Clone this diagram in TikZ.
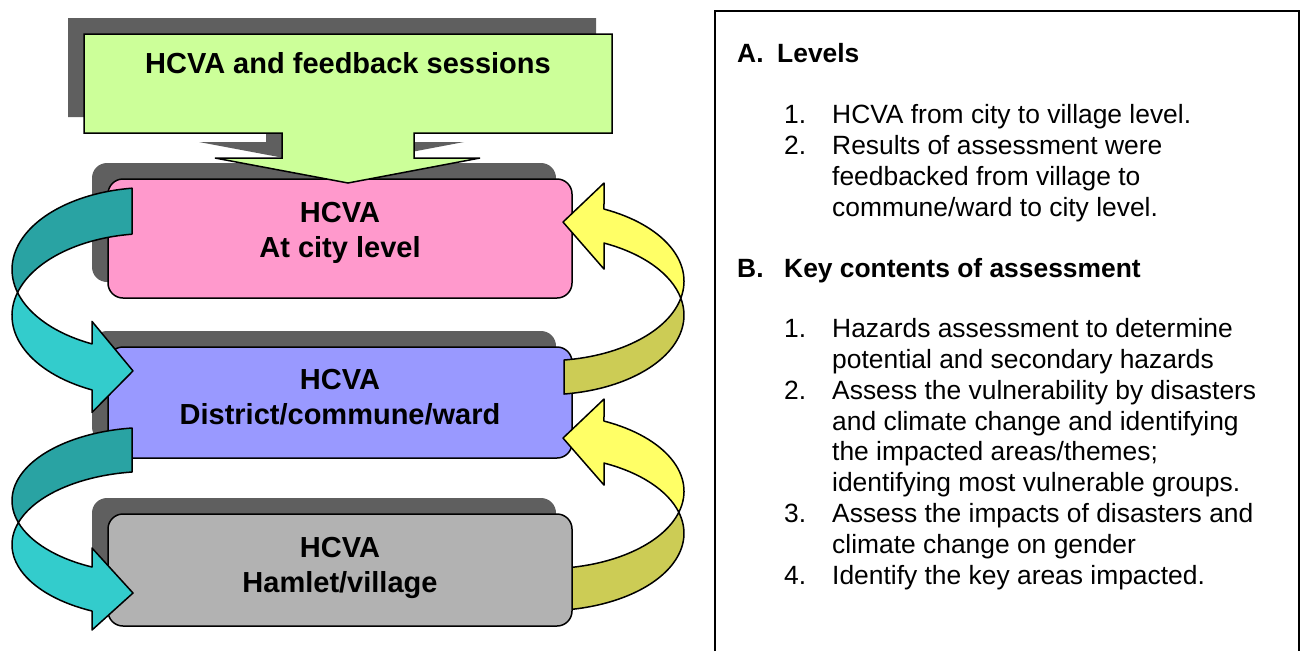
\documentclass[tikz,border=0pt]{standalone}
\usepackage{fontspec}
\setmainfont{Liberation Sans}
\usetikzlibrary{shadows}
\definecolor{pinkfill}{HTML}{FF99CC}
\definecolor{bluefill}{HTML}{9999FF}
\definecolor{grayfill}{HTML}{B2B2B2}
\definecolor{greenfill}{HTML}{CCFF99}
\definecolor{shadowgray}{HTML}{5F5F5F}
\definecolor{tealdark}{HTML}{29A3A3}
\definecolor{teallight}{HTML}{33CCCC}
\definecolor{yellowdark}{HTML}{CCCC55}
\definecolor{yellowlight}{HTML}{FFFF66}

% twisted curved block arrow, local origin = centre of the upper ellipse
% #1 back colour, #2 front colour, #3 y radius, #4 band width, #5 half head width
\newcommand{\twistarrow}[5]{%
  \pgfmathsetmacro\ca{asin(#4/2/#3)}%
  \pgfmathsetmacro\cu{180-\ca}%
  \pgfmathsetmacro\cd{180+\ca}%
  \pgfmathsetmacro\cx{-138*cos(\ca)}%
  \pgfmathsetmacro\eb{0.9074*#3}%
  \pgfmathsetmacro\et{-0.9915*#3}%
  \pgfmathsetmacro\mb{\eb+#4/2}%
  \draw[arrowline,fill=#1] (-18,\et)
    arc[start angle=262.5, end angle=\cu, x radius=138, y radius=#3]
    arc[start angle=\cd, end angle=262.5, x radius=138, y radius=#3] -- cycle;
  \draw[arrowline,fill=#2] (\cx,{#4/2})
    arc[start angle=\cd, end angle=114.85, x radius=138, y radius=#3]
    -- (-58,{\mb+#5}) -- (-17,{\mb+4}) -- (-58,{\mb-#5}) -- (-58,\eb)
    arc[start angle=114.85, end angle=\cu, x radius=138, y radius=#3] -- cycle;
}

\begin{document}
\begin{tikzpicture}[x=1pt,y=-1pt]
	\tikzstyle{levelbox} = [draw=black, line width=1.5pt, rounded corners=15pt, minimum width=464pt, inner sep=0pt, drop shadow={shadow xshift=-16pt, shadow yshift=16pt, fill=shadowgray, draw=none, opacity=1}]
	\tikzstyle{levellabel} = [anchor=base, inner sep=0pt, font=\bfseries\fontsize{29}{35}\selectfont]
	\tikzstyle{callout} = [fill=greenfill, draw=black, line width=1.5pt, drop shadow={shadow xshift=-16pt, shadow yshift=16pt, fill=shadowgray, draw=none, opacity=1}]
	\tikzstyle{arrowline} = [draw=black, line width=1.5pt, line join=round]
	\tikzstyle{paneltext} = [anchor=base west, inner sep=0pt, font=\fontsize{26.4}{31}\selectfont]
	\tikzstyle{panelhead} = [anchor=base west, inner sep=0pt, font=\bfseries\fontsize{26.4}{31}\selectfont]
	\useasboundingbox (0,0) rectangle (1304,651);

	% right panel
	\draw[line width=1.5pt] (715,651) -- (715,11) -- (1299,11) -- (1299,651);
	\node[panelhead] (heada) at (737,62.5) {A.};
	\node[panelhead] (levels) at (777,62.5) {Levels};
	\node[paneltext] (a1) at (784,123.5) {1.};
	\node[paneltext] (a1t) at (832,123.5) {HCVA from city to village level.};
	\node[paneltext] (a2) at (784,154.5) {2.};
	\node[paneltext] (a2t) at (832,154.5) {Results of assessment were};
	\node[paneltext] (a2u) at (832,185.5) {feedbacked from village to};
	\node[paneltext] (a2v) at (832,216.5) {commune/ward to city level.};
	\node[panelhead] (headb) at (737,277) {B.};
	\node[panelhead] (contents) at (784,277) {Key contents of assessment};
	\node[paneltext] (b1) at (784,337.3) {1.};
	\node[paneltext] (b1t) at (832,337.3) {Hazards assessment to determine};
	\node[paneltext] (b1u) at (832,368.2) {potential and secondary hazards};
	\node[paneltext] (b2) at (784,399.1) {2.};
	\node[paneltext] (b2t) at (832,399.1) {Assess the vulnerability by disasters};
	\node[paneltext] (b2u) at (832,430) {and climate change and identifying};
	\node[paneltext] (b2v) at (832,460.9) {the impacted areas/themes;};
	\node[paneltext] (b2w) at (832,491.8) {identifying most vulnerable groups.};
	\node[paneltext] (b3) at (784,522.7) {3.};
	\node[paneltext] (b3t) at (832,522.7) {Assess the impacts of disasters and};
	\node[paneltext] (b3u) at (832,553.6) {climate change on gender};
	\node[paneltext] (b4) at (784,584.5) {4.};
	\node[paneltext] (b4t) at (832,584.5) {Identify the key areas impacted.};

	% levels
	\node[levelbox, fill=pinkfill, minimum height=119pt] (city) at (340,238.5) {};
	\node[levelbox, fill=bluefill, minimum height=111pt] (district) at (340,402.5) {};
	\begin{scope}[shift={(546,533.3)}, rotate=180]
		\twistarrow{yellowdark}{yellowlight}{77.4}{42}{43}
	\end{scope}
	\node[levelbox, fill=grayfill, minimum height=112pt] (hamlet) at (340,570) {};
	\node[levellabel] (citytop) at (340,222.4) {HCVA};
	\node[levellabel] (citylab) at (340,257.4) {At city level};
	\node[levellabel] (districttop) at (340,389.4) {HCVA};
	\node[levellabel] (districtlab) at (340,424.4) {District/commune/ward};
	\node[levellabel] (hamlettop) at (340,557.4) {HCVA};
	\node[levellabel] (hamletlab) at (340,592.4) {Hamlet/village};

	% arrows down (left) and feedback (right)
	\begin{scope}[shift={(150,269.5)}]
		\twistarrow{tealdark}{teallight}{82}{46}{45.5}
	\end{scope}
	\begin{scope}[shift={(150,500.6)}]
		\twistarrow{tealdark}{teallight}{73.2}{44}{41}
	\end{scope}
	\begin{scope}[shift={(546,315.2)}, rotate=180]
		\twistarrow{yellowdark}{yellowlight}{79.5}{34}{43}
	\end{scope}

	% top callout
	\draw[callout] (84,34) -- (612,34) -- (612,133) -- (414,133) -- (414,158) -- (480,158) -- (348,183) -- (215,158) -- (282,158) -- (282,133) -- (84,133) -- cycle;
	\node[levellabel] (feedback) at (348,73) {HCVA and feedback sessions};
\end{tikzpicture}
\end{document}
